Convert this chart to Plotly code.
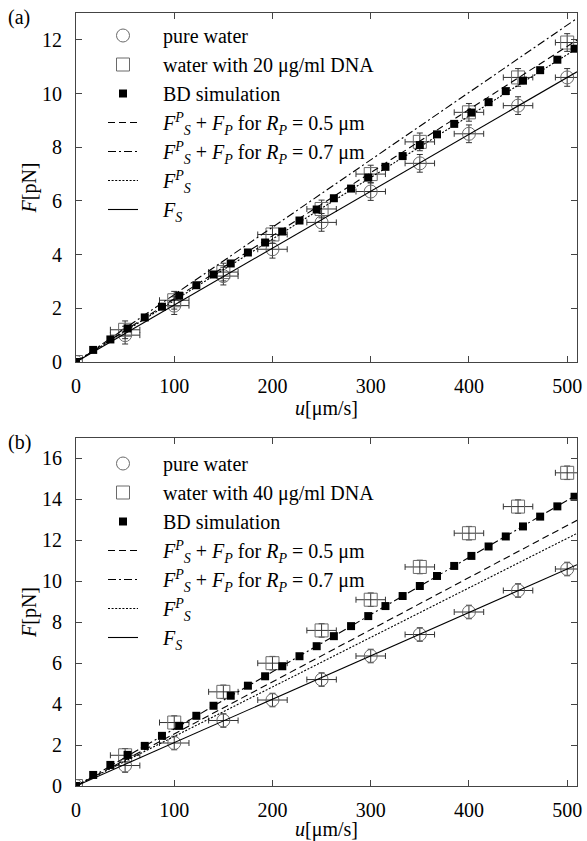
import plotly.graph_objects as go

# ---------------- data ----------------
u_exp = [0, 50, 100, 150, 200, 250, 300, 350, 400, 450, 500]
pure_water = [0, 1.0, 2.1, 3.2, 4.2, 5.2, 6.35, 7.4, 8.5, 9.55, 10.6]
dna20 = [0, 1.2, 2.3, 3.35, 4.75, 5.7, 7.0, 8.2, 9.3, 10.6, 11.9]
dna40 = [0, 1.5, 3.1, 4.6, 6.0, 7.6, 9.1, 10.7, 12.35, 13.65, 15.3]
u_err = [0, 15, 15, 15, 15, 15, 15, 15, 15, 15, 12]
f_err = [0, 0.33, 0.33, 0.33, 0.33, 0.33, 0.33, 0.33, 0.33, 0.33, 0.33]

u_bd = [0, 17.5, 35, 52.5, 70, 87.5, 105, 122.5, 140, 157.5, 175, 192.5, 210,
        227.5, 245, 262.5, 280, 297.5, 315, 332.5, 350, 367.5, 385, 402.5,
        420, 437.5, 455, 472.5, 490, 507.5]
bd_a = [0, 0.45, 0.84, 1.25, 1.66, 2.06, 2.47, 2.86, 3.26, 3.67, 4.08, 4.45,
        4.86, 5.27, 5.68, 6.10, 6.46, 6.87, 7.27, 7.67, 8.08, 8.48, 8.87, 9.29,
        9.68, 10.09, 10.48, 10.87, 11.26, 11.67]
bd_b = [0, 0.54, 1.03, 1.52, 1.96, 2.45, 2.94, 3.43, 3.92, 4.41, 4.90, 5.36,
        5.85, 6.34, 6.83, 7.32, 7.81, 8.30, 8.79, 9.28, 9.77, 10.26, 10.75,
        11.24, 11.70, 12.19, 12.68, 13.16, 13.66, 14.13]

# theory lines (straight through origin), endpoints at u = 0 and u = 510
u_line = [0, 510]
a_fs = [0, 10.81]
a_fsp = [0, 11.68]
a_r05 = [0, 11.99]
a_r07 = [0, 12.80]
b_fs = [0, 10.81]
b_fsp = [0, 12.34]
b_r05 = [0, 12.98]
b_r07 = [0, 14.23]

x_ticks = [0, 100, 200, 300, 400, 500]
a_yticks = [0, 2, 4, 6, 8, 10, 12]
b_yticks = [0, 2, 4, 6, 8, 10, 12, 14, 16]

# ---------------- styling ----------------
FONT = "Liberation Serif, Times New Roman, Times, serif"
FS = 20
W, H = 587, 841
GRAY = "#6a6a6a"
AX = "#444444"

DASH = "7px,4px"
DASHDOT = "8px,3px,2px,3px"
DOT = "2px,1.6px"

FSP = "<i>F</i><sup><i>P</i></sup><sub><i>S</i></sub>"
FP = "<i>F</i><sub><i>P</i></sub>"
RP = "<i>R</i><sub><i>P</i></sub>"
PAD = "\u00a0\u00a0\u00a0\u00a0"

fig = go.Figure()


def add_panel(xa, ya, leg, dna_vals, dna_label, bd, fs, fsp, r05, r07):
    ebar = dict(type="data", thickness=1, width=3, color="#333333")
    fig.add_trace(go.Scatter(
        x=u_exp, y=pure_water, mode="markers", xaxis=xa, yaxis=ya, legend=leg,
        name=PAD + "pure water",
        marker=dict(symbol="circle-open", size=13, color=GRAY, line=dict(width=1, color=GRAY)),
        error_x=dict(array=u_err, **ebar), error_y=dict(array=f_err, **ebar)))
    fig.add_trace(go.Scatter(
        x=u_exp, y=dna_vals, mode="markers", xaxis=xa, yaxis=ya, legend=leg,
        name=PAD + dna_label,
        marker=dict(symbol="square-open", size=13, color=GRAY, line=dict(width=1, color=GRAY)),
        error_x=dict(array=u_err, **ebar), error_y=dict(array=f_err, **ebar)))
    fig.add_trace(go.Scatter(
        x=u_bd, y=bd, mode="markers", xaxis=xa, yaxis=ya, legend=leg,
        name=PAD + "BD simulation",
        marker=dict(symbol="square", size=8, color="black")))
    specs = [
        (r05, DASH, PAD + FSP + " + " + FP + " for " + RP + " = 0.5 μm"),
        (r07, DASHDOT, PAD + FSP + " + " + FP + " for " + RP + " = 0.7 μm"),
        (fsp, DOT, PAD + FSP),
        (fs, "solid", PAD + "<i>F</i><sub><i>S</i></sub>"),
    ]
    for vals, dash, nm in specs:
        fig.add_trace(go.Scatter(
            x=u_line, y=vals, mode="lines", xaxis=xa, yaxis=ya, legend=leg,
            name=nm, line=dict(color="black", width=1.1, dash=dash)))


add_panel("x", "y", "legend", dna20, "water with 20 μg/ml DNA", bd_a, a_fs, a_fsp, a_r05, a_r07)
add_panel("x2", "y2", "legend2", dna40, "water with 40 μg/ml DNA", bd_b, b_fs, b_fsp, b_r05, b_r07)

xd = [76 / W, 577 / W]
ya_dom = [1 - 362 / H, 1 - 13 / H]
yb_dom = [1 - 786 / H, 1 - 438 / H]

axis_common = dict(
    showgrid=False, zeroline=False, showline=True, linecolor=AX, linewidth=1,
    mirror="ticks", ticks="inside", ticklen=6, tickcolor=AX, tickwidth=1,
    tickfont=dict(family=FONT, size=FS, color="black"), automargin=False,
)
xt = dict(text="<i>u</i>[μm/s]", standoff=0, font=dict(family=FONT, size=FS))
yt = dict(text="<i>F</i>[pN]", standoff=0, font=dict(family=FONT, size=FS))

fig.update_layout(
    width=W, height=H,
    margin=dict(l=0, r=0, t=0, b=0, autoexpand=False),
    paper_bgcolor="white", plot_bgcolor="white",
    font=dict(family=FONT, size=FS, color="black"),
    xaxis=dict(domain=xd, anchor="y", range=[0, 510], tickvals=x_ticks,
               ticklabelstandoff=6, title=xt, **axis_common),
    yaxis=dict(domain=ya_dom, anchor="x", range=[0, 13], tickvals=a_yticks,
               ticklabelstandoff=9, title=yt, **axis_common),
    xaxis2=dict(domain=xd, anchor="y2", range=[0, 510], tickvals=x_ticks,
                ticklabelstandoff=6, title=xt, **axis_common),
    yaxis2=dict(domain=yb_dom, anchor="x2", range=[0, 17], tickvals=b_yticks,
                ticklabelstandoff=9, title=yt, **axis_common),
    legend=dict(x=103 / W, y=1 - 16 / H, xanchor="left", yanchor="top",
                bgcolor="rgba(0,0,0,0)", borderwidth=0,
                font=dict(family=FONT, size=FS, color="black"), tracegroupgap=0),
    legend2=dict(x=103 / W, y=1 - 444 / H, xanchor="left", yanchor="top",
                 bgcolor="rgba(0,0,0,0)", borderwidth=0,
                 font=dict(family=FONT, size=FS, color="black"), tracegroupgap=0),
    annotations=[
        dict(text="(a)", x=6 / W, y=1 - 4 / H, xref="paper", yref="paper",
             xanchor="left", yanchor="top", showarrow=False,
             font=dict(family=FONT, size=FS, color="black")),
        dict(text="(b)", x=6 / W, y=1 - 429 / H, xref="paper", yref="paper",
             xanchor="left", yanchor="top", showarrow=False,
             font=dict(family=FONT, size=FS, color="black")),
    ],
)

fig.write_html(
    "out.html",
    config={"displayModeBar": False},
    post_script="document.body.style.margin='0';document.body.style.overflow='hidden';",
)
